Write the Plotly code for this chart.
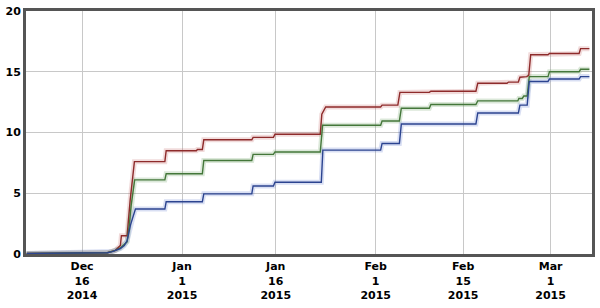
import plotly.graph_objects as go

# ---- data ----
red_t = ["2014-12-07 03:00", "2014-12-20 01:00", "2014-12-21 08:00", "2014-12-22 03:00", "2014-12-22 07:00",
         "2014-12-23 05:00", "2014-12-23 17:00", "2014-12-24 00:30", "2014-12-24 09:00", "2014-12-29 06:00",
         "2014-12-29 11:00", "2015-01-03 07:00", "2015-01-03 11:00", "2015-01-04 06:00", "2015-01-04 11:30",
         "2015-01-12 04:00", "2015-01-12 09:00", "2015-01-15 15:00", "2015-01-15 21:00", "2015-01-23 03:00",
         "2015-01-23 09:00", "2015-01-24 00:00", "2015-02-01 19:00", "2015-02-02 00:30", "2015-02-04 13:00",
         "2015-02-04 21:00", "2015-02-09 14:00", "2015-02-09 20:00", "2015-02-17 01:00", "2015-02-17 08:00",
         "2015-02-22 00:30", "2015-02-22 06:00", "2015-02-23 20:00", "2015-02-24 02:00", "2015-02-25 04:00",
         "2015-02-25 12:00", "2015-02-25 19:30", "2015-02-28 14:00", "2015-02-28 19:30", "2015-03-05 13:30",
         "2015-03-05 19:00", "2015-03-07 05:00"]
red_v = [0.05, 0.1, 0.3, 0.7, 1.5,
         1.5, 4.5, 6.0, 7.6, 7.6,
         8.5, 8.5, 8.6, 8.6, 9.4,
         9.4, 9.6, 9.6, 9.85, 9.85,
         11.5, 12.1, 12.1, 12.25, 12.25,
         13.3, 13.3, 13.4, 13.4, 14.05,
         14.05, 14.15, 14.15, 14.55, 14.6,
         14.7, 16.4, 16.4, 16.5, 16.5,
         16.9, 16.9]

green_t = ["2014-12-07 03:00", "2014-12-20 01:00", "2014-12-21 08:00", "2014-12-22 03:00", "2014-12-23 05:00",
           "2014-12-23 13:00", "2014-12-23 20:30", "2014-12-24 04:00", "2014-12-24 10:00", "2014-12-29 06:00",
           "2014-12-29 11:00", "2015-01-04 06:00", "2015-01-04 11:30", "2015-01-12 04:00", "2015-01-12 09:00",
           "2015-01-15 15:00", "2015-01-15 21:00", "2015-01-23 03:00", "2015-01-23 12:00", "2015-02-01 19:00",
           "2015-02-02 00:30", "2015-02-04 19:00", "2015-02-05 02:30", "2015-02-09 14:00", "2015-02-09 20:00",
           "2015-02-17 01:00", "2015-02-17 08:00", "2015-02-23 18:00", "2015-02-23 22:00", "2015-02-24 11:00",
           "2015-02-24 17:00", "2015-02-25 06:00", "2015-02-25 14:00", "2015-02-28 14:00", "2015-02-28 19:30",
           "2015-03-05 13:30", "2015-03-05 19:00", "2015-03-07 05:00"]
green_v = [0.05, 0.1, 0.3, 0.5, 1.0,
           2.3, 4.0, 5.0, 6.1, 6.1,
           6.6, 6.6, 7.7, 7.7, 8.2,
           8.2, 8.4, 8.4, 10.6, 10.6,
           10.95, 10.95, 12.0, 12.0, 12.3,
           12.3, 12.6, 12.6, 12.8, 12.8,
           13.0, 13.0, 14.6, 14.6, 15.0,
           15.0, 15.2, 15.2]

blue_t = ["2014-12-07 03:00", "2014-12-20 01:00", "2014-12-20 20:00", "2014-12-22 03:00", "2014-12-22 18:00",
          "2014-12-23 05:00", "2014-12-23 18:00", "2014-12-24 03:00", "2014-12-24 13:00", "2014-12-29 06:00",
          "2014-12-29 11:00", "2015-01-04 06:00", "2015-01-04 11:30", "2015-01-12 04:00", "2015-01-12 09:00",
          "2015-01-15 15:00", "2015-01-15 21:00", "2015-01-23 07:00", "2015-01-23 13:00", "2015-02-01 19:00",
          "2015-02-02 00:30", "2015-02-04 19:00", "2015-02-05 02:30", "2015-02-17 01:00", "2015-02-17 08:00",
          "2015-02-23 20:00", "2015-02-24 02:00", "2015-02-25 06:00", "2015-02-25 14:00", "2015-02-28 14:00",
          "2015-02-28 19:30", "2015-03-05 13:30", "2015-03-05 19:00", "2015-03-07 05:00"]
blue_v = [0.05, 0.1, 0.2, 0.45, 0.7,
          1.1, 2.4, 3.0, 3.7, 3.7,
          4.3, 4.3, 4.95, 4.95, 5.6,
          5.6, 5.9, 5.9, 8.55, 8.55,
          9.1, 9.1, 10.7, 10.7, 11.6,
          11.6, 12.25, 12.25, 14.2, 14.2,
          14.4, 14.4, 14.6, 14.6]

x_tickvals = ["2014-12-16", "2015-01-01", "2015-01-16", "2015-02-01", "2015-02-15", "2015-03-01"]
x_ticktext = ["Dec<br>16<br>2014", "Jan<br>1<br>2015", "Jan<br>16<br>2015",
              "Feb<br>1<br>2015", "Feb<br>15<br>2015", "Mar<br>1<br>2015"]
y_tickvals = [0, 5, 10, 15, 20]

series = [
    (red_t, red_v, "#8e2b2b", "rgba(190,90,90,0.22)"),
    (green_t, green_v, "#44773a", "rgba(90,150,80,0.22)"),
    (blue_t, blue_v, "#2c4490", "rgba(80,110,200,0.22)"),
]

fig = go.Figure()
for t, v, col, shadow in series:
    fig.add_trace(go.Scatter(x=t, y=v, mode="lines", line=dict(color=shadow, width=5),
                             hoverinfo="skip", showlegend=False))
for t, v, col, shadow in series:
    fig.add_trace(go.Scatter(x=t, y=v, mode="lines", line=dict(color=col, width=1.4),
                             showlegend=False))

font = dict(family="DejaVu Sans", size=11, color="#000000", weight="bold")
fig.update_layout(
    width=600, height=308,
    margin=dict(l=23, r=5, t=8, b=54),
    paper_bgcolor="white", plot_bgcolor="white",
    font=font,
    showlegend=False,
)
fig.update_xaxes(
    type="date", range=["2014-12-07 00:30", "2015-03-07 15:00"],
    tickmode="array", tickvals=x_tickvals, ticktext=x_ticktext,
    showgrid=True, gridcolor="#c8c8c8", gridwidth=1,
    showline=True, mirror=True, linecolor="#555555", linewidth=3,
    zeroline=False, ticks="", tickfont=font,
)
fig.update_yaxes(
    range=[0, 20], tickmode="array", tickvals=y_tickvals,
    showgrid=True, gridcolor="#c8c8c8", gridwidth=1,
    showline=True, mirror=True, linecolor="#555555", linewidth=3,
    zeroline=False, ticks="", tickfont=font,
)
fig.write_html("out.html")
